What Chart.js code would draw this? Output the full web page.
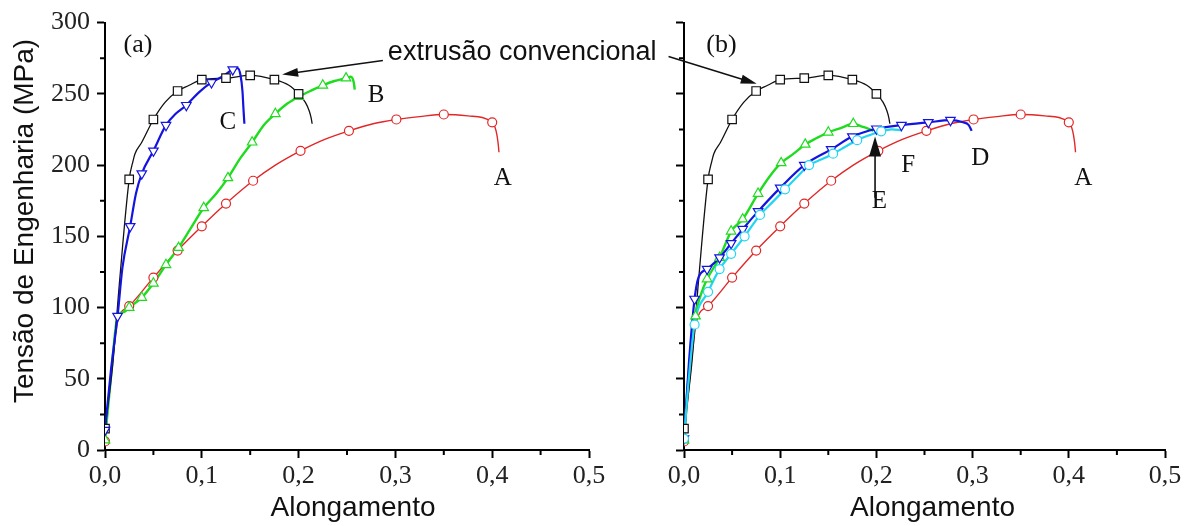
<!DOCTYPE html>
<html>
<head>
<meta charset="utf-8">
<script src="https://cdn.jsdelivr.net/npm/chart.js@4.4.1/dist/chart.umd.min.js"></script>
<style>
html, body { margin: 0; padding: 0; background: #fff; }
#wrap { position: relative; width: 1194px; height: 526px; }
#wrap canvas { position: absolute; left: 0; top: 0; }
</style>
</head>
<body>
<div id="wrap">
<canvas id="panelA" width="1194" height="526"></canvas>
<canvas id="panelB" width="1194" height="526"></canvas>
</div>
<script>
// axis ticks
var xMinor = [0.05, 0.15, 0.25, 0.35, 0.45];
var yMinor = [25, 75, 125, 175, 225, 275];

// extrusão convencional (black, squares) - same curve in (a) and (b)
var convX = [0, 0.008, 0.015, 0.025, 0.029, 0.031, 0.038, 0.05, 0.062, 0.075, 0.087, 0.1, 0.125, 0.15, 0.175, 0.19, 0.2, 0.207, 0.211, 0.213, 0.214];
var convY = [15, 60, 118, 190, 203, 208, 216, 232, 244, 252, 256, 260, 261, 263, 260, 256, 250, 244, 238, 233, 229];
var convMkX = [0, 0.025, 0.05, 0.075, 0.1, 0.125, 0.15, 0.175, 0.2];
var convMkY = [15, 190, 232, 252, 260, 261, 263, 260, 250];

// A (red, circles) - same curve in (a) and (b)
var aX = [0, 0.006, 0.013, 0.025, 0.05, 0.075, 0.1, 0.125, 0.153, 0.176, 0.202, 0.227, 0.252, 0.277, 0.301, 0.325, 0.35, 0.375, 0.4, 0.404, 0.406, 0.407];
var aY = [6, 50, 90, 101, 121, 140, 157, 173, 189, 200, 210, 218, 224, 229, 232, 234, 235.5, 234.5, 230, 224, 216, 209];
var aMkX = [0, 0.025, 0.05, 0.075, 0.1, 0.125, 0.153, 0.202, 0.252, 0.301, 0.35, 0.4];
var aMkY = [6, 101, 121, 140, 157, 173, 189, 210, 224, 232, 235.5, 230];

// B (green, up triangles) - panel (a)
var bX = [0, 0.006, 0.013, 0.02, 0.025, 0.038, 0.05, 0.063, 0.076, 0.088, 0.102, 0.115, 0.127, 0.14, 0.152, 0.164, 0.176, 0.188, 0.2, 0.212, 0.225, 0.237, 0.249, 0.254, 0.257, 0.258];
var bY = [7, 50, 94, 97, 100, 107, 117, 130, 142, 155, 170, 180, 191, 205, 216, 228, 236, 243, 248, 252, 256, 259, 261, 262, 258, 253];
var bMkX = [0, 0.025, 0.038, 0.05, 0.063, 0.076, 0.102, 0.127, 0.152, 0.176, 0.2, 0.225, 0.249];
var bMkY = [7, 100, 107, 117, 130, 142, 170, 191, 216, 236, 248, 256, 261];

// C (blue, down triangles) - panel (a)
var cX = [0, 0.006, 0.013, 0.018, 0.026, 0.032, 0.038, 0.05, 0.063, 0.073, 0.084, 0.097, 0.11, 0.121, 0.132, 0.137, 0.14, 0.142, 0.143, 0.144];
var cY = [14, 55, 94, 128, 157, 180, 194, 210, 228, 236, 242, 251, 258, 262, 267, 268, 263, 252, 240, 229];
var cMkX = [0, 0.013, 0.026, 0.038, 0.05, 0.063, 0.084, 0.11, 0.132];
var cMkY = [14, 94, 157, 194, 210, 228, 242, 258, 267];

// D (blue, down triangles) - panel (b)
var dX = [0, 0.005, 0.011, 0.015, 0.024, 0.037, 0.049, 0.061, 0.077, 0.1, 0.125, 0.153, 0.175, 0.2, 0.226, 0.254, 0.277, 0.29, 0.296, 0.299];
var dY = [8, 60, 106, 121, 127, 135, 145, 155, 167.5, 184, 200, 211, 220, 225.5, 228, 230, 231.5, 230, 228, 224];
var dMkX = [0, 0.011, 0.024, 0.037, 0.049, 0.061, 0.077, 0.1, 0.125, 0.153, 0.175, 0.2, 0.226, 0.254, 0.277];
var dMkY = [8, 106, 127, 135, 145, 155, 167.5, 184, 200, 211, 220, 225.5, 228, 230, 231.5];

// E (green, up triangles) - panel (b)
var eX = [0, 0.005, 0.011, 0.017, 0.024, 0.037, 0.049, 0.061, 0.077, 0.089, 0.101, 0.114, 0.126, 0.138, 0.15, 0.163, 0.176, 0.185, 0.19, 0.197];
var eY = [7, 55, 92, 108, 120, 135, 153.5, 162, 180, 192, 201.5, 208, 214.5, 219, 223, 226, 229, 227, 226, 224];
var eMkX = [0, 0.012, 0.024, 0.037, 0.049, 0.061, 0.077, 0.101, 0.126, 0.15, 0.176];
var eMkY = [7, 94, 120, 135, 153.5, 162, 180, 201.5, 214.5, 223, 229];

// F (cyan, circles) - panel (b)
var fX = [0, 0.005, 0.011, 0.025, 0.037, 0.049, 0.063, 0.079, 0.092, 0.105, 0.118, 0.13, 0.143, 0.155, 0.168, 0.18, 0.193, 0.205, 0.216, 0.226];
var fY = [8, 50, 88, 111, 127, 137.7, 150, 165, 174, 183, 192, 200, 204, 208, 213, 217.5, 221, 223.7, 225, 224.4];
var fMkX = [0, 0.011, 0.025, 0.037, 0.049, 0.063, 0.079, 0.105, 0.13, 0.155, 0.18, 0.205];
var fMkY = [8, 88, 111, 127, 137.7, 150, 165, 183, 200, 208, 217.5, 223.7];

// curve letters [text, x, y] in data units of each panel
var tagsA = [['C', 0.127, 230], ['B', 0.280, 249], ['A', 0.411, 190.5]];
var tagsB = [['F', 0.233, 200], ['D', 0.308, 204.5], ['E', 0.203, 174.5], ['A', 0.415, 190.5]];

var BLACK = '#111111', RED = '#e32626', GREEN = '#1fdc1f', BLUE = '#1414e0', CYAN = '#22d6f2';
var SERIF = 'Liberation Serif', SANS = 'Liberation Sans';

function pts(xs, ys) {
  return xs.map(function (x, i) { return { x: x, y: ys[i] }; });
}

function markers(xs, ys, color, style, rot, r) {
  return {
    data: pts(xs, ys), showLine: false,
    pointStyle: style, pointRotation: rot, pointRadius: r,
    pointBorderColor: color, pointBackgroundColor: '#fff', pointBorderWidth: 1.2
  };
}
function line(xs, ys, color, w) {
  return {
    data: pts(xs, ys), showLine: true, pointRadius: 0,
    borderColor: color, borderWidth: w, cubicInterpolationMode: 'monotone'
  };
}

function axes(labelColor, yWidth) {
  var grid = { drawOnChartArea: false, drawTicks: true, tickLength: 8, tickWidth: 2, color: '#000' };
  var border = { display: true, color: '#000', width: 2 };
  return {
    x: {
      type: 'linear', min: 0, max: 0.5,
      ticks: {
        stepSize: 0.1, padding: 3, color: '#222', font: { family: SERIF, size: 26 },
        callback: function (v) { return v.toFixed(1).replace('.', ','); }
      },
      grid: grid, border: border,
      afterFit: function (s) { s.height = 76; }
    },
    y: {
      type: 'linear', min: 0, max: 300,
      ticks: { stepSize: 50, padding: 7, color: labelColor, font: { family: SERIF, size: 26 } },
      grid: grid, border: border,
      afterFit: function (s) { s.width = yWidth; }
    }
  };
}

var minorTicks = {
  id: 'minorTicks',
  afterDraw: function (chart) {
    var ctx = chart.ctx, x = chart.scales.x, y = chart.scales.y;
    ctx.save();
    ctx.strokeStyle = '#000';
    ctx.lineWidth = 2;
    ctx.beginPath();
    xMinor.forEach(function (v) {
      var px = x.getPixelForValue(v);
      ctx.moveTo(px, y.bottom); ctx.lineTo(px, y.bottom + 5);
    });
    yMinor.forEach(function (v) {
      var py = y.getPixelForValue(v);
      ctx.moveTo(x.left, py); ctx.lineTo(x.left - 5, py);
    });
    ctx.stroke();
    ctx.restore();
  }
};

function baseOptions(padding, labelColor, yWidth) {
  return {
    responsive: false, animation: false, events: [],
    layout: { padding: padding },
    plugins: { legend: { display: false }, tooltip: { enabled: false } },
    scales: axes(labelColor, yWidth)
  };
}

var chartA = new Chart(document.getElementById('panelA'), {
  type: 'scatter',
  data: {
    datasets: [
      markers(cMkX, cMkY, BLUE, 'triangle', 180, 5.5),
      markers(convMkX, convMkY, BLACK, 'rect', 0, 6),
      markers(bMkX, bMkY, GREEN, 'triangle', 0, 5.5),
      markers(aMkX, aMkY, RED, 'circle', 0, 4.5),
      line(cX, cY, BLUE, 2.2),
      line(convX, convY, BLACK, 1.3),
      line(bX, bY, GREEN, 2.4),
      line(aX, aY, RED, 1.4)
    ]
  },
  options: baseOptions({ left: 0, top: 20, right: 605, bottom: 0 }, '#222', 105),
  plugins: [minorTicks]
});

function drawArrow(ctx, x1, y1, x2, y2, len, half) {
  var a = Math.atan2(y2 - y1, x2 - x1), c = Math.cos(a), s = Math.sin(a);
  ctx.beginPath();
  ctx.moveTo(x1, y1);
  ctx.lineTo(x2 - c * len * 0.8, y2 - s * len * 0.8);
  ctx.stroke();
  ctx.beginPath();
  ctx.moveTo(x2, y2);
  ctx.lineTo(x2 - c * len + s * half, y2 - s * len - c * half);
  ctx.lineTo(x2 - c * len - s * half, y2 - s * len + c * half);
  ctx.closePath();
  ctx.fill();
}

var notes = {
  id: 'notes',
  afterDraw: function (chart) {
    var ctx = chart.ctx;
    var ax = chartA.scales.x, ay = chartA.scales.y, bx = chart.scales.x, by = chart.scales.y;
    ctx.save();
    ctx.fillStyle = '#111';
    ctx.strokeStyle = '#111';
    ctx.textAlign = 'center';
    ctx.textBaseline = 'middle';

    // axis titles
    ctx.font = '28px "' + SANS + '"';
    ctx.fillText('Alongamento', (ax.left + ax.right) / 2 + 6, 508);
    ctx.fillText('Alongamento', (bx.left + bx.right) / 2 + 8, 508);
    ctx.save();
    ctx.translate(25, 221);
    ctx.rotate(-Math.PI / 2);
    ctx.fillText('Tensão de Engenharia (MPa)', 0, 0);
    ctx.restore();

    // panel letters
    ctx.font = '26px "' + SERIF + '"';
    ctx.fillText('(a)', ax.getPixelForValue(0.034), ay.getPixelForValue(284));
    ctx.fillText('(b)', bx.getPixelForValue(0.039), by.getPixelForValue(284));

    // curve letters
    ctx.font = '25px "' + SERIF + '"';
    tagsA.forEach(function (t) { ctx.fillText(t[0], ax.getPixelForValue(t[1]), ay.getPixelForValue(t[2])); });
    tagsB.forEach(function (t) { ctx.fillText(t[0], bx.getPixelForValue(t[1]), by.getPixelForValue(t[2])); });

    // extrusão convencional + arrows
    ctx.font = '27px "' + SANS + '"';
    var tx = ax.getPixelForValue(0.431), ty = ay.getPixelForValue(279);
    ctx.fillText('extrusão convencional', tx, ty);
    var half = ctx.measureText('extrusão convencional').width / 2;
    ctx.lineWidth = 1.5;
    drawArrow(ctx, tx - half - 5, ty + 8, ax.getPixelForValue(0.183), ay.getPixelForValue(263.5), 16, 4.5);
    drawArrow(ctx, tx + half + 12, ty + 4, bx.getPixelForValue(0.0756), by.getPixelForValue(257), 16, 4.5);

    // arrow at E
    ctx.lineWidth = 1.6;
    drawArrow(ctx, bx.getPixelForValue(0.1986), by.getPixelForValue(177),
      bx.getPixelForValue(0.1986), by.getPixelForValue(220), 20, 6);
    ctx.restore();
  }
};

var chartB = new Chart(document.getElementById('panelB'), {
  type: 'scatter',
  data: {
    datasets: [
      markers(fMkX, fMkY, CYAN, 'circle', 0, 4.5),
      markers(dMkX, dMkY, BLUE, 'triangle', 180, 5.5),
      markers(eMkX, eMkY, GREEN, 'triangle', 0, 5.5),
      markers(convMkX, convMkY, BLACK, 'rect', 0, 6),
      markers(aMkX, aMkY, RED, 'circle', 0, 4.5),
      line(fX, fY, CYAN, 2.2),
      line(dX, dY, BLUE, 2.2),
      line(eX, eY, GREEN, 2.4),
      line(convX, convY, BLACK, 1.3),
      line(aX, aY, RED, 1.4)
    ]
  },
  options: baseOptions({ left: 664, top: 20, right: 29, bottom: 0 }, 'rgba(0,0,0,0)', 20),
  plugins: [minorTicks, notes]
});
</script>
</body>
</html>
